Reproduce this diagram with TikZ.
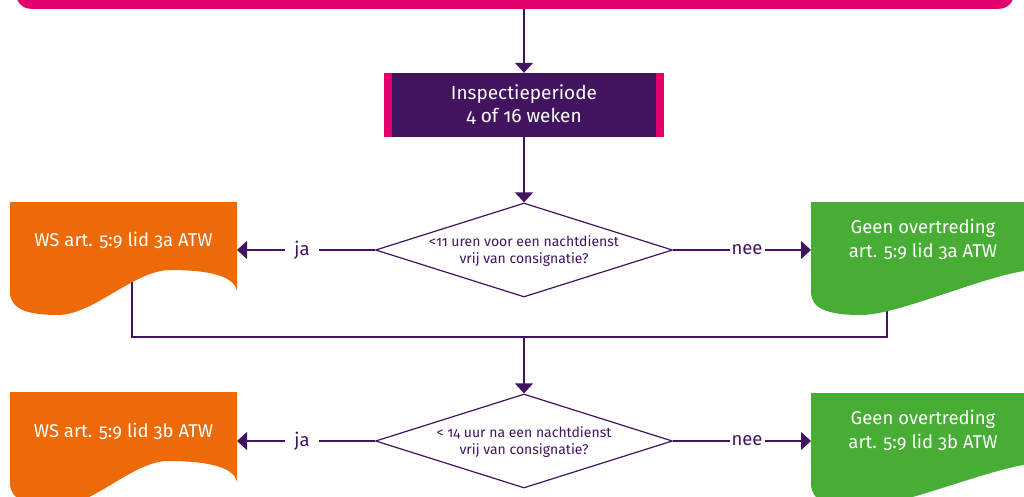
\documentclass[tikz,border=0pt]{standalone}
\usepackage{fontspec}
\setmainfont{Fira Sans}[Numbers=OldStyle]
\usetikzlibrary{shapes.geometric,arrows.meta}
\definecolor{ropink}{HTML}{E2006E}
\definecolor{ropurple}{HTML}{42145F}
\definecolor{roorange}{HTML}{EC6A07}
\definecolor{rogreen}{HTML}{47AD35}
\begin{document}
\begin{tikzpicture}[x=1pt,y=-1pt,
  conn/.style={draw=ropurple, line width=1.2pt},
  arr/.style={conn, -{Triangle[length=10pt,width=18pt]}},
  boxtext/.style={text=white, align=center, font=\fontsize{19}{23}\selectfont},
  doctext/.style={text=white, align=center, font=\fontsize{18.5}{24}\selectfont},
  dia/.style={shape=diamond, draw=ropurple, line width=1.2pt, fill=white, inner sep=0pt, minimum width=297pt, minimum height=94pt},
  diatext/.style={text=ropurple, align=center, font=\fontsize{14}{17}\selectfont},
  lbl/.style={text=ropurple, fill=white, font=\fontsize{18.5}{22}\selectfont, inner ysep=1pt},
]
\useasboundingbox (0,0) rectangle (1024,497);
\clip (0,0) rectangle (1024,497);

% top pink box
\node[fill=ropink, rounded corners=15pt, minimum width=998pt, minimum height=40pt, inner sep=0pt, anchor=south] (top) at (515,9) {};

% inspection box
\node[fill=ropurple, minimum width=280pt, minimum height=64pt, inner sep=0pt] (insp) at (524,105) {};
\fill[ropink] (insp.north west) rectangle ++(8,64);
\fill[ropink] (insp.north east) rectangle ++(-8,64);
\node[boxtext] (insptext) at (524,105) {Inspectieperiode\\4 of 16 weken};

% diamonds
\node[dia] (d1) at (524,250) {};
\node[diatext] (d1t) at (524,251) {<11 uren voor een nachtdienst\\vrij van consignatie?};
\node[dia] (d2) at (524,441) {};
\node[diatext] (d2t) at (524,442) {< 14 uur na een nachtdienst\\vrij van consignatie?};

% coordinates
\coordinate (o1r) at (237,250);
\coordinate (g1l) at (811,250);
\coordinate (o2r) at (237,441);
\coordinate (g2l) at (811,441);
\coordinate (o1b) at (132,280);
\coordinate (g1b) at (887,300);
\coordinate (m1) at (524,337);

% connectors
\draw[arr] (top.south -| insp.north) -- (insp.north);
\draw[arr] (insp.south) -- (d1.north);
\draw[arr] (d1.west) -- (o1r);
\draw[arr] (d1.east) -- (g1l);
\draw[conn] (o1b) -- (o1b |- m1) -- (m1 -| g1b) -- (g1b);
\draw[arr] (m1) -- (d2.north);
\draw[arr] (d2.west) -- (o2r);
\draw[arr] (d2.east) -- (g2l);

\node[lbl, inner xsep=9pt] (ja1) at (302,250) {ja};
\node[lbl, inner xsep=2pt] (nee1) at (747,250) {nee};
\node[lbl, inner xsep=9pt] (ja2) at (302,441) {ja};
\node[lbl, inner xsep=2pt] (nee2) at (747,441) {nee};

% document shapes
\begin{scope}[shift={(10,202)}]
\fill[roorange] (0,0) -- (227,0) -- (227,89) .. controls (224,72) and (192,68) .. (160,68) .. controls (125,68) and (83,113) .. (48,113) .. controls (15,113) and (0,106) .. (0,90) -- cycle;
\end{scope}
\begin{scope}[shift={(10,392)}]
\fill[roorange] (0,0) -- (227,0) -- (227,90) .. controls (224,73) and (190,69) .. (158,69) .. controls (123,69) and (83,114) .. (48,114) .. controls (15,114) and (0,107) .. (0,91) -- cycle;
\end{scope}
\begin{scope}[shift={(811,202)}]
\fill[rogreen] (0,0) -- (260,0) -- (260,68) -- (225,68) .. controls (185,68) and (90,113) .. (50,113) .. controls (15,113) and (0,106) .. (0,90) -- cycle;
\end{scope}
\begin{scope}[shift={(811,393)}]
\fill[rogreen] (0,0) -- (260,0) -- (260,70) -- (230,70) .. controls (190,70) and (92,114) .. (50,114) .. controls (15,114) and (0,107) .. (0,91) -- cycle;
\end{scope}

\node[doctext] (o1t) at (123.5,240) {WS art. 5:9 lid 3a ATW};
\node[doctext] (g1t) at (923,239) {Geen overtreding\\art. 5:9 lid 3a ATW};
\node[doctext] (o2t) at (123.5,431) {WS art. 5:9 lid 3b ATW};
\node[doctext] (g2t) at (923,430) {Geen overtreding\\art. 5:9 lid 3b ATW};
\end{tikzpicture}
\end{document}
